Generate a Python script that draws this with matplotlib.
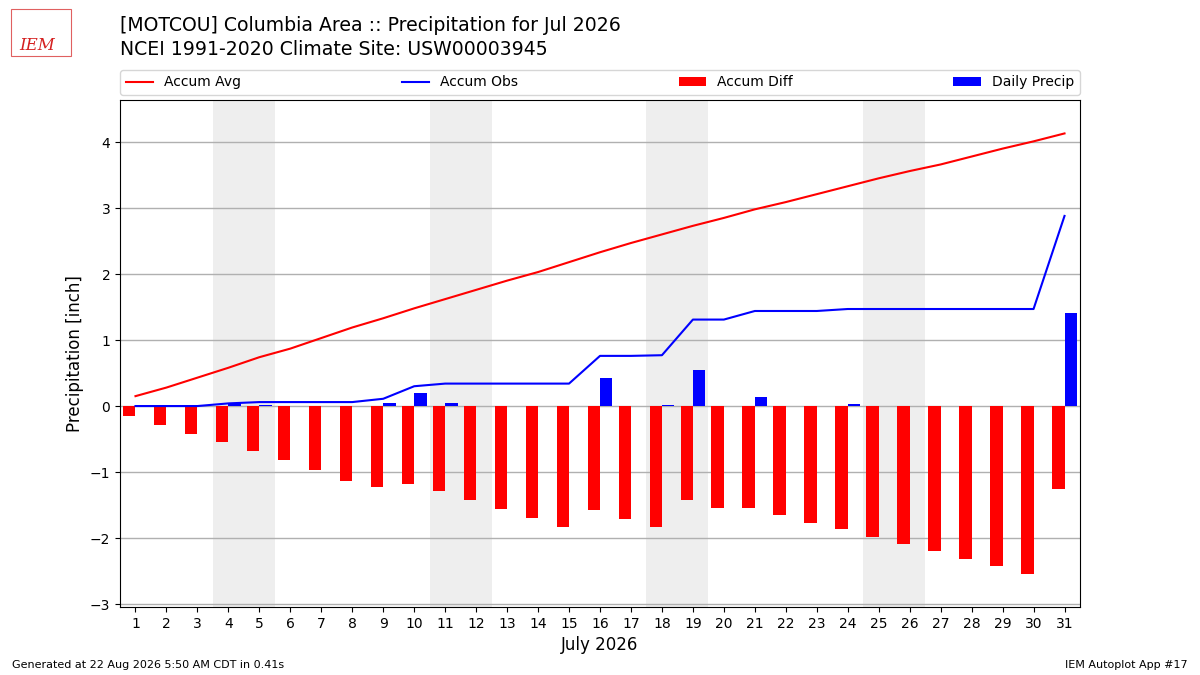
import numpy as np
import matplotlib
matplotlib.use("Agg")
import matplotlib.pyplot as plt
from matplotlib.patches import Rectangle

# ---------- Data ----------
days = list(range(1, 32))
daily_precip = [0, 0, 0, 0.04, 0.02, 0, 0, 0, 0.05, 0.19,
                0.04, 0, 0, 0, 0, 0.42, 0, 0.01, 0.54, 0,
                0.13, 0, 0, 0.03, 0, 0, 0, 0, 0, 0, 1.41]
accum_avg = [0.15, 0.28, 0.43, 0.58, 0.74, 0.87, 1.03, 1.19, 1.33, 1.48,
             1.62, 1.76, 1.90, 2.03, 2.18, 2.33, 2.47, 2.60, 2.73, 2.85,
             2.98, 3.09, 3.21, 3.33, 3.45, 3.56, 3.66, 3.78, 3.90, 4.01, 4.13]
weekends = [4, 11, 18, 25]   # saturdays, shade sat+sun

accum_obs = np.cumsum(daily_precip)
accum_diff = accum_obs - np.array(accum_avg)

# ---------- Figure ----------
fig = plt.figure(figsize=(12, 6.75), dpi=100)
ax = fig.add_axes([0.1, 0.1007, 0.8, 0.7511])

for sat in weekends:
    ax.axvspan(sat - 0.5, sat + 1.5, color="#EEEEEE", zorder=0, lw=0)

ax.plot(days, accum_avg, color="r", lw=1.5, label="Accum Avg", zorder=4)
ax.plot(days, accum_obs, color="b", lw=1.5, label="Accum Obs", zorder=4)
ax.bar(np.array(days) - 0.4, accum_diff, width=0.4, align="edge",
       color="r", label="Accum Diff", zorder=3)
ax.bar(days, daily_precip, width=0.4, align="edge",
       color="b", label="Daily Precip", zorder=3)

ax.set_xlim(0.5, 31.5)
ax.set_ylim(-3.045, 4.636)
ax.set_xticks(days)
ax.set_yticks(range(-3, 5))
ax.yaxis.grid(True, color="#b0b0b0", lw=1, zorder=1)
ax.set_axisbelow(True)
ax.tick_params(labelsize=10)
ax.set_ylabel("Precipitation [inch]", fontsize=12)
ax.set_xlabel("July 2026", fontsize=12)

ax.legend(ncol=4, mode="expand", loc="lower left",
          bbox_to_anchor=(0, 1.01, 1, 0.102), fontsize=10, borderaxespad=0)

# ---------- Titles / footer ----------
fig.text(0.1, 0.962, "[MOTCOU] Columbia Area :: Precipitation for Jul 2026",
         fontsize=13.6, va="center")
fig.text(0.1, 0.926, "NCEI 1991-2020 Climate Site: USW00003945",
         fontsize=13.6, va="center")
fig.text(0.01, 0.015, "Generated at 22 Aug 2026 5:50 AM CDT in 0.41s",
         fontsize=8, va="center")
fig.text(0.99, 0.015, "IEM Autoplot App #17", fontsize=8, va="center", ha="right")

# rough IEM logo
fig.patches.append(Rectangle((0.009, 0.917), 0.05, 0.07, transform=fig.transFigure,
                             fill=False, edgecolor="#e06060", lw=0.8))
fig.text(0.031, 0.933, "IEM", fontsize=12, color="#d42020", family="DejaVu Serif",
         style="italic", ha="center", va="center")

fig.savefig("out.png", dpi=100)
